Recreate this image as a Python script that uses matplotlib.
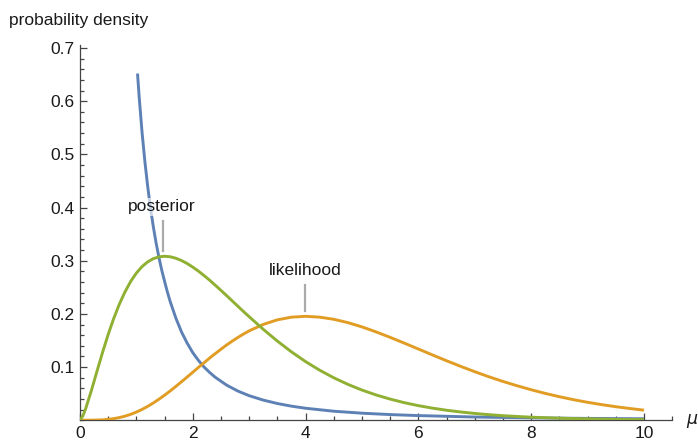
import matplotlib.pyplot as plt
from matplotlib.ticker import MultipleLocator, FixedLocator

plt.rcParams['font.family'] = ['Liberation Sans', 'DejaVu Sans']

# likelihood and posterior: 0.1 steps up to mu = 3, then 0.25 steps
mu = [0, 0.05, 0.1, 0.2, 0.3, 0.4, 0.5, 0.6, 0.7, 0.8, 0.9, 1.0, 1.1, 1.2,
      1.3, 1.4, 1.5, 1.6, 1.7, 1.8, 1.9, 2.0, 2.1, 2.2, 2.3, 2.4, 2.5, 2.6,
      2.7, 2.8, 2.9, 3.0, 3.25, 3.5, 3.75, 4, 4.25, 4.5, 4.75, 5, 5.25, 5.5,
      5.75, 6, 6.25, 6.5, 6.75, 7, 7.25, 7.5, 7.75, 8, 8.25, 8.5, 8.75, 9,
      9.25, 9.5, 9.75, 10]
likelihood = [0, 0, 0, 0.0001, 0.0003, 0.0007, 0.0016, 0.0030, 0.0050, 0.0077,
              0.0111, 0.0153, 0.0203, 0.0260, 0.0324, 0.0395, 0.0471, 0.0551,
              0.0636, 0.0723, 0.0812, 0.0902, 0.0993, 0.1081, 0.1170, 0.1254,
              0.1336, 0.1415, 0.1488, 0.1557, 0.1621, 0.1681, 0.1802, 0.1888,
              0.1938, 0.1954, 0.1938, 0.1898, 0.1835, 0.1755, 0.1661, 0.1558,
              0.1450, 0.1339, 0.1227, 0.1118, 0.1013, 0.0912, 0.0817, 0.0729,
              0.0648, 0.0573, 0.0504, 0.0442, 0.0386, 0.0337, 0.0293, 0.0254,
              0.0220, 0.0189]
posterior = [0, 0.0080, 0.0215, 0.0551, 0.0916, 0.1276, 0.1613, 0.1919, 0.2188,
             0.2418, 0.2612, 0.2768, 0.2889, 0.2978, 0.3038, 0.3073, 0.3083,
             0.3074, 0.3046, 0.3003, 0.2947, 0.2879, 0.2804, 0.2720, 0.2632,
             0.2537, 0.2441, 0.2343, 0.2243, 0.2143, 0.2043, 0.1946, 0.1709,
             0.1488, 0.1285, 0.1102, 0.0940, 0.0798, 0.0674, 0.0567, 0.0475,
             0.0397, 0.0330, 0.0274, 0.0227, 0.0187, 0.0155, 0.0127, 0.0104,
             0.0085, 0.0070, 0.0057, 0.0047, 0.0038, 0.0031, 0.0025, 0.0020,
             0.0016, 0.0013, 0.0011]

# prior, starts just above mu = 1
mu_prior = [1.02, 1.05, 1.1, 1.15, 1.2, 1.25, 1.3, 1.35, 1.4, 1.45, 1.5, 1.55,
            1.6, 1.7, 1.8, 1.9, 2.0, 2.1, 2.2, 2.3, 2.4, 2.6, 2.8, 3.0, 3.25,
            3.5, 3.75, 4.0, 4.5, 5.0, 5.5, 6.0, 7.0, 8.0, 9.0, 10.0]
prior = [0.652, 0.607, 0.542, 0.487, 0.440, 0.399, 0.364, 0.333, 0.306, 0.282,
         0.261, 0.241, 0.223, 0.192, 0.166, 0.145, 0.127, 0.1125, 0.100,
         0.0897, 0.0806, 0.0660, 0.0548, 0.0461, 0.0378, 0.0314, 0.0264,
         0.0225, 0.0169, 0.0132, 0.0106, 0.0087, 0.0060, 0.0044, 0.0034,
         0.0027]

blue = '#5E81B5'
orange = '#E19C24'
green = '#8FB032'
ink = '#1a1a1a'

fig = plt.figure(figsize=(6.98, 4.42), dpi=100)
ax = fig.add_axes([0.1146, 0.0493, 0.8484, 0.8493])

for x, y, c in [(mu_prior, prior, blue), (mu, likelihood, orange),
                (mu, posterior, green)]:
    ax.plot(x, y, color=c, lw=2.1, solid_capstyle='butt',
            solid_joinstyle='round', zorder=3)

# callouts
ax.plot([1.475, 1.475], [0.318, 0.375], color='#aaaaaa', lw=1.6, zorder=4)
ax.text(1.45, 0.401, 'posterior', ha='center', va='center', fontsize=12.5,
        color=ink, zorder=5,
        bbox=dict(boxstyle='square,pad=0.1', fc='white', ec='none', alpha=0.65))
ax.plot([3.99, 3.99], [0.206, 0.254], color='#aaaaaa', lw=1.6, zorder=4)
ax.text(3.99, 0.281, 'likelihood', ha='center', va='center', fontsize=12.5,
        color=ink, zorder=5)

ax.set_xlim(0, 10.5)
ax.set_ylim(0, 0.706)

for s in ['top', 'right']:
    ax.spines[s].set_visible(False)
for s in ['left', 'bottom']:
    ax.spines[s].set_color('#444444')
    ax.spines[s].set_linewidth(0.9)

ax.xaxis.set_major_locator(FixedLocator([0, 2, 4, 6, 8, 10]))
ax.xaxis.set_minor_locator(MultipleLocator(0.5))
ax.yaxis.set_major_locator(FixedLocator([0.1, 0.2, 0.3, 0.4, 0.5, 0.6, 0.7]))
ax.yaxis.set_minor_locator(MultipleLocator(0.02))
ax.tick_params(which='both', direction='in', color='#444444', width=0.9,
               labelsize=12.5, labelcolor=ink)
ax.tick_params(which='major', length=5)
ax.tick_params(which='minor', length=2.8)
ax.tick_params(axis='x', pad=4)
ax.tick_params(axis='y', pad=4)

fig.text(9 / 698, 1 - 20 / 442, 'probability density', ha='left', va='center',
         fontsize=12.5, color=ink)
fig.text(686 / 698, 1 - 421 / 442, r'$\mu$', ha='left', va='center',
         fontsize=12.5, color=ink)

fig.savefig('out.png', dpi=100)
